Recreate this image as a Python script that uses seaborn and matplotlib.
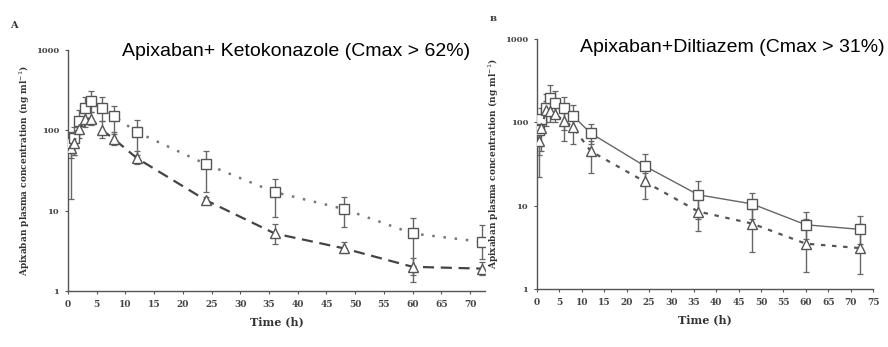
import numpy as np
import pandas as pd
import matplotlib
matplotlib.use("Agg")
import matplotlib.pyplot as plt
import seaborn as sns

# ---- data ----
time_h = [0.5, 1, 2, 3, 4, 6, 8, 12, 24, 36, 48, 60, 72]

# Panel A: Apixaban + Ketoconazole (squares, dotted) vs apixaban alone (triangles, dashed)
keto_mean = [70, 80, 130, 190, 230, 190, 150, 95, 38, 17, 10.5, 5.2, 4.1]
keto_hi = [95, 110, 180, 260, 310, 260, 200, 135, 56, 25, 15, 8, 6.6]
keto_lo = [14, 50, 90, 130, 170, 130, 90, 50, 17, 8.3, 6.3, 1.3, 2.5]

ctrlA_mean = [60, 70, 105, 140, 140, 100, 78, 45, 13.5, 5.2, 3.4, 2.0, 1.9]
ctrlA_hi = [80, 95, 140, 180, 170, 130, 95, 55, 15, 6.8, 4.1, 2.6, 2.3]
ctrlA_lo = [45, 50, 80, 110, 115, 80, 65, 38, 12, 3.8, 3.0, 1.6, 1.6]

# Panel B: Apixaban + Diltiazem (squares, solid) vs apixaban alone (triangles, dotted)
dil_mean = [80, 110, 150, 195, 170, 150, 120, 74, 30, 13.5, 10.5, 5.9, 5.2]
dil_hi = [110, 150, 220, 280, 240, 200, 160, 95, 42, 20, 14, 8.5, 7.5]
dil_lo = [40, 70, 100, 130, 120, 80, 85, 55, 20, 7, 7, 4, 3.5]

ctrlB_mean = [60, 85, 140, 135, 125, 105, 88, 45, 19.5, 8.5, 6.1, 3.5, 3.1]
ctrlB_hi = [75, 110, 180, 190, 180, 130, 110, 60, 25, 13, 9, 7, 6]
ctrlB_lo = [22, 45, 90, 100, 100, 60, 55, 25, 12, 5, 2.8, 1.6, 1.5]

titles = ["Apixaban+ Ketokonazole (Cmax > 62%)", "Apixaban+Diltiazem (Cmax > 31%)"]
panel_labels = ["A", "B"]
xticksA = list(range(0, 75, 5))
xticksB = list(range(0, 80, 5))
yticks = [1, 10, 100, 1000]
ytick_labels = ["1", "10", "100", "1000"]

# ---- style ----
sns.set_style("ticks")
plt.rcParams["font.family"] = ["DejaVu Serif"]

fig = plt.figure(figsize=(8.88, 3.47), dpi=100)
axA = fig.add_axes([68 / 888, 1 - 291 / 347, 417 / 888, 241 / 347])
axB = fig.add_axes([537 / 888, 1 - 289 / 347, 336 / 888, 250 / 347])

line_col = "#555555"
err_col = "#666666"


def draw(ax, mean, lo, hi, ls, marker, lw, lc):
    df = pd.DataFrame({"t": time_h, "c": mean})
    sns.lineplot(data=df, x="t", y="c", ax=ax, color=lc, linestyle=ls,
                 linewidth=lw, marker=marker, markersize=7,
                 markerfacecolor="white", markeredgecolor=line_col,
                 markeredgewidth=1.0, zorder=3)
    m = np.array(mean)
    yerr = [m - np.array(lo), np.array(hi) - m]
    ax.errorbar(time_h, m, yerr=yerr, fmt="none", ecolor=err_col,
                elinewidth=1.0, capsize=2.5, capthick=0.9, zorder=2)


draw(axA, keto_mean, keto_lo, keto_hi, (0, (1, 3.5)), "s", 1.8, "#777777")
draw(axA, ctrlA_mean, ctrlA_lo, ctrlA_hi, (0, (5, 3)), "^", 1.6, "#444444")
draw(axB, dil_mean, dil_lo, dil_hi, "-", "s", 1.0, "#666666")
draw(axB, ctrlB_mean, ctrlB_lo, ctrlB_hi, (0, (2, 3)), "^", 1.6, "#555555")

for ax, xt, xmax in [(axA, xticksA, 72.6), (axB, xticksB, 75)]:
    ax.set_yscale("log")
    ax.set_ylim(1, 1000)
    ax.set_xlim(0, xmax)
    ax.set_xticks(xt)
    ax.set_xticklabels([str(v) for v in xt], fontsize=6.5, fontweight="bold", color="#444444")
    ax.set_yticks(yticks)
    ax.set_yticklabels(ytick_labels, fontsize=6, fontweight="bold", color="#444444")
    ax.yaxis.set_minor_locator(matplotlib.ticker.NullLocator())
    ax.tick_params(axis="both", length=2.5, width=0.8, color="#555555", pad=4)
    for s in ["left", "bottom"]:
        ax.spines[s].set_color("#555555")
        ax.spines[s].set_linewidth(1.0)
    sns.despine(ax=ax)
    ax.set_xlabel("Time (h)", fontsize=8, fontweight="bold", color="#333333", labelpad=5)
    ax.set_ylabel("Apixaban plasma concentration (ng ml$^{-1}$)", fontsize=6.5,
                  fontweight="bold", color="#333333", labelpad=3)

fig.text(122 / 888, 1 - 52 / 347, titles[0], ha="left", va="center",
         fontsize=14, family="Liberation Sans", color="black")
fig.text(580 / 888, 1 - 47 / 347, titles[1], ha="left", va="center",
         fontsize=14, family="Liberation Sans", color="black")
fig.text(10 / 888, 1 - 28 / 347, panel_labels[0], fontsize=7, fontweight="bold", color="#333333")
fig.text(490 / 888, 1 - 21 / 347, panel_labels[1], fontsize=6, fontweight="bold", color="#333333")

fig.savefig("out.png", dpi=100, facecolor="white")
